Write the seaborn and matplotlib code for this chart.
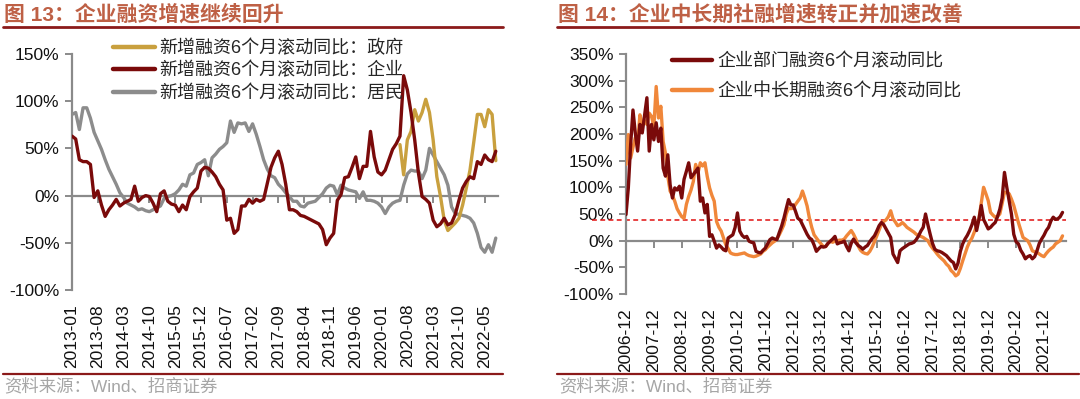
import numpy as np
import pandas as pd
import matplotlib
matplotlib.use("Agg")
import matplotlib.pyplot as plt
import seaborn as sns
from matplotlib.lines import Line2D
from matplotlib.ticker import FixedLocator, FixedFormatter

# ---------------- data ----------------
left_start, left_end = "2013-01", "2022-08"
left_xticklabels = ["2013-01", "2013-08", "2014-03", "2014-10", "2015-05", "2015-12",
                    "2016-07", "2017-02", "2017-09", "2018-04", "2018-11", "2019-06",
                    "2020-01", "2020-08", "2021-03", "2021-10", "2022-05"]
left_yticks = [-100, -50, 0, 50, 100, 150]
left_names = ["新增融资6个月滚动同比：政府", "新增融资6个月滚动同比：企业", "新增融资6个月滚动同比：居民"]

gov_start = "2020-06"
gov = [54, 22, 59, 68, 91, 79, 88, 102, 88, 59, 20, -1, -26, -37, -33, -29, -24, -10,
       8, 27, 56, 86, 86, 73, 91, 86, 37]

corp = [63, 60, 38, 36, 36, 33, -2, 5, -10, -22, -15, -10,
        -4, -11, -8, -6, -4, 10, -6, -2, 0, -1, -8, -17,
        2, 5, -6, -9, -10, -17, -10, -15, -1, 4, 8, 26,
        30, 29, 25, 20, 12, 6, -26, -24, -40, -36, -11, -11,
        -4, -8, -4, -6, -4, 13, 30, 40, 47, 33, 12, -15,
        -15, -17, -21, -22, -24, -26, -28, -30, -36, -52, -45, -40,
        -5, 1, 19, 20, 30, 41, 18, 31, 31, 68, 41, 25,
        22, 27, 38, 49, 55, 63, 127, 112, 88, 59, 24, -1,
        -4, -8, -26, -33, -30, -24, -31, -29, -20, -5, 8, 15,
        20, 18, 36, 33, 43, 38, 36, 47]

house = [86, 88, 70, 93, 93, 82, 67, 58, 49, 38, 28, 20,
         12, 3, -2, -8, -10, -12, -15, -14, -16, -17, -15, -13,
         -11, -3, -1, 0, 2, 6, 12, 10, 22, 24, 33, 35,
         38, 21, 40, 44, 49, 52, 56, 79, 67, 77, 76, 77,
         68, 76, 65, 52, 38, 28, 21, 19, 12, 8, 3, -1,
         -6, -6, -11, -12, -8, -7, -6, -2, 2, 8, 11, 10,
         1, 11, 8, 6, 5, 4, -3, 4, -5, -5, -6, -8,
         -12, -19, -12, -8, -6, -5, 11, 23, 27, 26, 26, 18,
         27, 50, 43, 36, 29, 22, 11, -12, -19, -20, -21, -22,
         -24, -29, -40, -55, -60, -52, -60, -45]

right_start, right_end = "2006-12", "2022-08"
right_xticklabels = ["2006-12", "2007-12", "2008-12", "2009-12", "2010-12", "2011-12",
                     "2012-12", "2013-12", "2014-12", "2015-12", "2016-12", "2017-12",
                     "2018-12", "2019-12", "2020-12", "2021-12"]
right_yticks = [-100, -50, 0, 50, 100, 150, 200, 250, 300, 350]
right_names = ["企业部门融资6个月滚动同比", "企业中长期融资6个月滚动同比"]
ref_level = 38

sector = [49, 99, 180, 245, 202, 168, 218, 202, 235, 268, 168, 218,
          189, 221, 186, 211, 136, 121, 161, 105, 80, 99, 95, 102,
          80, 115, 130, 146, 118, 124, 130, 136, 74, 80, 52, 68,
          8, 11, -1, -14, -8, -12, -17, -19, 5, 8, 11, 25,
          52, 18, 10, 6, 8, -1, -3, -4, -20, -22, -23, -18,
          -14, -6, 2, 5, 3, 2, 15, 27, 42, 60, 77, 67,
          67, 55, 42, 39, 30, 21, 12, 5, 2, -8, -20, -15,
          -11, -12, -11, -5, -1, 3, 8, -6, -4, -3, -1, -11,
          -19, -5, 3, -4, -9, -12, -16, -12, -9, -2, 4, 9,
          18, 28, 34, 30, 22, 14, 6, -25, -33, -41, -19, -15,
          -12, -9, -6, -5, -3, 2, 9, 18, 25, 50, 30, 12,
          -5, -16, -19, -20, -22, -25, -28, -33, -38, -41, -53, -42,
          -20, -6, 3, 10, 19, 30, 44, 19, 40, 66, 40, 31,
          22, 25, 30, 34, 45, 59, 80, 128, 100, 75, 50, 12,
          -2, -6, -18, -25, -34, -30, -28, -34, -30, -19, -5, 3,
          10, 19, 25, 37, 44, 40, 41, 45, 53]

longterm = [143, 199, 155, 175, 193, 183, 236, 218, 225, 218, 239, 233,
            214, 289, 230, 252, 186, 164, 121, 93, 85, 74, 60, 52,
            45, 42, 68, 83, 95, 111, 143, 127, 146, 140, 146, 120,
            99, 85, 74, 36, 25, 18, 5, -8, -15, -23, -25, -26,
            -26, -25, -24, -23, -26, -28, -29, -30, -29, -27, -25, -20,
            -17, -12, -8, -4, -1, 4, 11, 20, 30, 50, 61, 60,
            61, 68, 74, 80, 93, 80, 65, 42, 25, 11, 5, -1,
            -6, -11, -11, -5, -1, -3, -1, 0, 1, 1, 3, 9,
            14, 19, 12, 3, -10, -18, -22, -24, -25, -20, -12, -2,
            9, 20, 31, 36, 39, 45, 56, 41, 35, 28, 30, 34,
            30, 25, 22, 19, 16, 12, 10, 8, 6, 3, 0, -8,
            -14, -19, -25, -30, -34, -38, -44, -48, -56, -60, -66, -63,
            -52, -38, -25, -12, -2, 5, 16, 28, 41, 70, 100, 88,
            75, 53, 48, 44, 46, 50, 70, 91, 90, 88, 78, 66,
            50, 34, 20, 6, 3, 0, -8, -19, -21, -22, -25, -28,
            -30, -24, -19, -15, -12, -6, -3, 0, 9]

# ---------------- style ----------------
sns.set_theme(style="white")
plt.rcParams["font.family"] = ["Liberation Sans", "Noto Sans CJK SC", "DejaVu Sans"]
plt.rcParams["axes.unicode_minus"] = False

C_CORP = "#7A0A0A"
C_GOV = "#C9A03E"
C_HOUSE = "#8C8C8C"
C_LONG = "#F0873A"
C_AXIS = "#8A8A8A"
C_TITLE = "#BE6045"
C_RULE = "#8B1A1A"
C_SRC = "#A6A6A6"

W, H = 1080, 399
fig = plt.figure(figsize=(W / 100, H / 100), dpi=100)
fig.patch.set_facecolor("white")


def fx(px):
    return px / W


def fy(py):
    return 1 - py / H


def style_axes(ax, yticks, ylim, xticks_pos, xticklabels, xlim):
    ax.set_facecolor("white")
    ax.set_xlim(*xlim)
    ax.set_ylim(*ylim)
    for s in ["top", "right", "bottom"]:
        ax.spines[s].set_visible(False)
    ax.spines["left"].set_color(C_AXIS)
    ax.spines["left"].set_linewidth(1.6)
    ax.yaxis.set_major_locator(FixedLocator(yticks))
    ax.yaxis.set_major_formatter(FixedFormatter([f"{v}%" for v in yticks]))
    ax.tick_params(axis="y", which="major", direction="out", length=5, width=1.4,
                   color=C_AXIS, labelsize=12.5, labelcolor="#111111", pad=4, left=True)
    ax.xaxis.set_major_locator(FixedLocator(xticks_pos))
    ax.xaxis.set_major_formatter(FixedFormatter(xticklabels))
    ax.tick_params(axis="x", which="major", length=0, labelsize=12.5, labelcolor="#111111",
                   pad=10, labelrotation=90, bottom=True)
    ax.grid(False)
    # zero line carrying the tick marks
    zero_loc = (0 - ylim[0]) / (ylim[1] - ylim[0])
    sec = ax.secondary_xaxis(zero_loc)
    sec.set_xticks(xticks_pos)
    sec.tick_params(axis="x", direction="out", length=5, width=1.4, color=C_AXIS,
                    labelbottom=False, labeltop=False)
    for s in sec.spines.values():
        s.set_color(C_AXIS)
        s.set_linewidth(1.6)


# ---------------- left chart ----------------
lmonths = pd.period_range(left_start, left_end, freq="M")
lx = np.arange(len(lmonths))
gov_full = [np.nan] * (lmonths.get_loc(pd.Period(gov_start, freq="M"))) + gov
dfl = pd.DataFrame({"x": lx, "gov": gov_full, "corp": corp, "house": house})

ax1 = fig.add_axes([fx(72), fy(290), fx(426), 236 / H])
lticks = [lmonths.get_loc(pd.Period(t, freq="M")) for t in left_xticklabels]
style_axes(ax1, left_yticks, (-100, 150), lticks, left_xticklabels, (0, len(lx) - 0.4))

sns.lineplot(data=dfl, x="x", y="house", ax=ax1, color=C_HOUSE, linewidth=2.4, zorder=3)
sns.lineplot(data=dfl.dropna(subset=["gov"]), x="x", y="gov", ax=ax1, color=C_GOV,
             linewidth=2.4, zorder=4)
sns.lineplot(data=dfl, x="x", y="corp", ax=ax1, color=C_CORP, linewidth=2.4, zorder=5)
ax1.set_xlabel("")
ax1.set_ylabel("")

legend_font = {"size": 13, "weight": "light"}
hl = [Line2D([], [], color=c, lw=3.2) for c in (C_GOV, C_CORP, C_HOUSE)]
fig.legend(hl, left_names, loc="upper left", bbox_to_anchor=(fx(113), fy(40)),
           frameon=False, prop=legend_font, handlelength=2.3, handletextpad=0.28,
           labelspacing=0.27, borderpad=0, borderaxespad=0)

# ---------------- right chart ----------------
rmonths = pd.period_range(right_start, right_end, freq="M")
rx = np.arange(len(rmonths))
dfr = pd.DataFrame({"x": rx, "sector": sector, "longterm": longterm})

ax2 = fig.add_axes([fx(626), fy(294), fx(440), 240 / H])
rticks = [rmonths.get_loc(pd.Period(t, freq="M")) for t in right_xticklabels]
style_axes(ax2, right_yticks, (-100, 350), rticks, right_xticklabels, (0, len(rx) + 0.5))

ax2.axhline(ref_level, xmin=-0.077, xmax=1.0, color="#E01010", lw=1.1,
            ls=(0, (3.2, 2.2)), clip_on=False, zorder=2)
sns.lineplot(data=dfr, x="x", y="longterm", ax=ax2, color=C_LONG, linewidth=2.4, zorder=3)
sns.lineplot(data=dfr, x="x", y="sector", ax=ax2, color=C_CORP, linewidth=2.4, zorder=4)
ax2.set_xlabel("")
ax2.set_ylabel("")

hr = [Line2D([], [], color=c, lw=3.2) for c in (C_CORP, C_LONG)]
fig.legend(hr, right_names, loc="upper left", bbox_to_anchor=(fx(672), fy(53)),
           frameon=False, prop=legend_font, handlelength=2.2, handletextpad=0.3,
           labelspacing=0.72, borderpad=0, borderaxespad=0)

# ---------------- titles, rules, sources ----------------
fig.text(fx(4), fy(14), "图 13：企业融资增速继续回升", color=C_TITLE, fontsize=15,
         fontweight="bold", va="center", ha="left")
fig.text(fx(558), fy(14), "图 14：企业中长期社融增速转正并加速改善", color=C_TITLE, fontsize=15,
         fontweight="bold", va="center", ha="left")
for (x0, x1) in [(3, 503), (557, 1079)]:
    fig.add_artist(Line2D([fx(x0), fx(x1)], [fy(27), fy(27)], color=C_RULE, lw=2.0))
    fig.add_artist(Line2D([fx(x0), fx(x1)], [fy(374), fy(374)], color=C_RULE, lw=1.6))
src_font = {"size": 12.5, "weight": "light"}
fig.text(fx(4), fy(386), "资料来源：Wind、招商证券", color=C_SRC, fontdict=src_font,
         va="center", ha="left")
fig.text(fx(559), fy(386), "资料来源：Wind、招商证券", color=C_SRC, fontdict=src_font,
         va="center", ha="left")

fig.savefig("out.png", dpi=100, facecolor="white")
